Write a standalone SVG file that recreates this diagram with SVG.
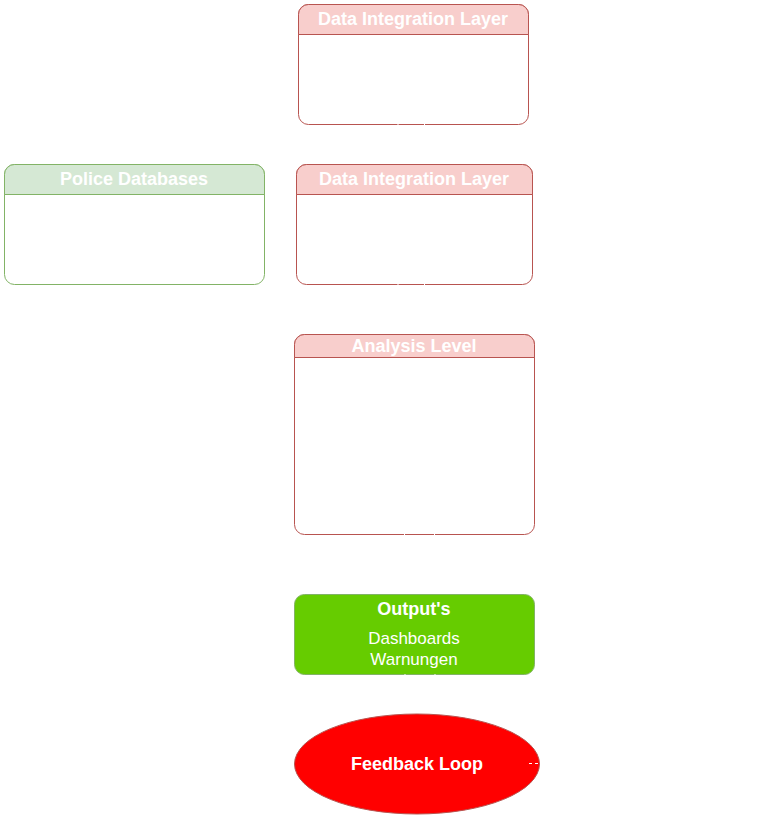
<svg xmlns="http://www.w3.org/2000/svg" width="781" height="822" viewBox="0 0 781 822">
<style>
.red{fill:#ffffff;stroke:#b85450;stroke-width:1}
.redh{fill:#f8cecc;stroke:#b85450;stroke-width:1}
.grn{fill:#ffffff;stroke:#82b366;stroke-width:1}
.grnh{fill:#d5e8d4;stroke:#82b366;stroke-width:1}
.t{font-family:"Liberation Sans",Arial,sans-serif;font-size:18px;font-weight:bold;fill:#ffffff;text-anchor:middle;dominant-baseline:central}
.n{font-family:"Liberation Sans",Arial,sans-serif;font-size:17px;fill:#ffffff;text-anchor:middle;dominant-baseline:central}
.c{stroke:#ffffff;stroke-width:1;fill:none}
</style>
<rect width="781" height="822" fill="#ffffff"/>
<g id="data-integration-1">
<rect class="red" x="298.5" y="4.5" width="230" height="120" rx="10"/>
<path class="redh" d="M298.5,34.5 V14.5 A10,10 0 0 1 308.5,4.5 H518.5 A10,10 0 0 1 528.5,14.5 V34.5 Z"/>
<text class="t" x="413" y="19">Data Integration Layer</text>
</g>
<g id="police-databases">
<rect class="grn" x="4.5" y="164.5" width="260" height="120" rx="10"/>
<path class="grnh" d="M4.5,194.5 V174.5 A10,10 0 0 1 14.5,164.5 H254.5 A10,10 0 0 1 264.5,174.5 V194.5 Z"/>
<text class="t" x="134" y="179">Police Databases</text>
</g>
<g id="data-integration-2">
<rect class="red" x="296.5" y="164.5" width="236" height="120" rx="10"/>
<path class="redh" d="M296.5,194.5 V174.5 A10,10 0 0 1 306.5,164.5 H522.5 A10,10 0 0 1 532.5,174.5 V194.5 Z"/>
<text class="t" x="414" y="179">Data Integration Layer</text>
</g>
<g id="analysis-level">
<rect class="red" x="294.5" y="334.5" width="240" height="200" rx="10"/>
<path class="redh" d="M294.5,357.5 V344.5 A10,10 0 0 1 304.5,334.5 H524.5 A10,10 0 0 1 534.5,344.5 V357.5 Z"/>
<text class="t" x="414" y="346">Analysis Level</text>
</g>
<g id="outputs">
<rect x="294.5" y="594.5" width="240" height="80" rx="10" fill="#66cc00" stroke="#82b366" stroke-width="1"/>
<text class="t" x="414" y="609">Output's</text>
<text class="n" x="414" y="638">Dashboards</text>
<text class="n" x="414" y="659">Warnungen</text>
</g>
<g id="feedback-loop">
<ellipse cx="417" cy="764" rx="122.5" ry="50" fill="#ff0000" stroke="#b85450" stroke-width="1"/>
<text class="t" x="417" y="764">Feedback Loop</text>
</g>
<g id="connectors">
<line class="c" x1="398" y1="124" x2="398" y2="162"/>
<line class="c" x1="424.5" y1="124" x2="424.5" y2="162"/>
<line class="c" x1="398" y1="284" x2="398" y2="332"/>
<line class="c" x1="424.5" y1="284" x2="424.5" y2="332"/>
<line class="c" x1="404.5" y1="534" x2="404.5" y2="592"/>
<line class="c" x1="434.5" y1="534" x2="434.5" y2="592"/>
<line class="c" x1="405" y1="674" x2="405" y2="712"/>
<line class="c" x1="435" y1="674" x2="435" y2="712"/>
<line class="c" x1="529" y1="763.5" x2="560" y2="763.5" stroke-dasharray="3 3"/>
</g>
</svg>
